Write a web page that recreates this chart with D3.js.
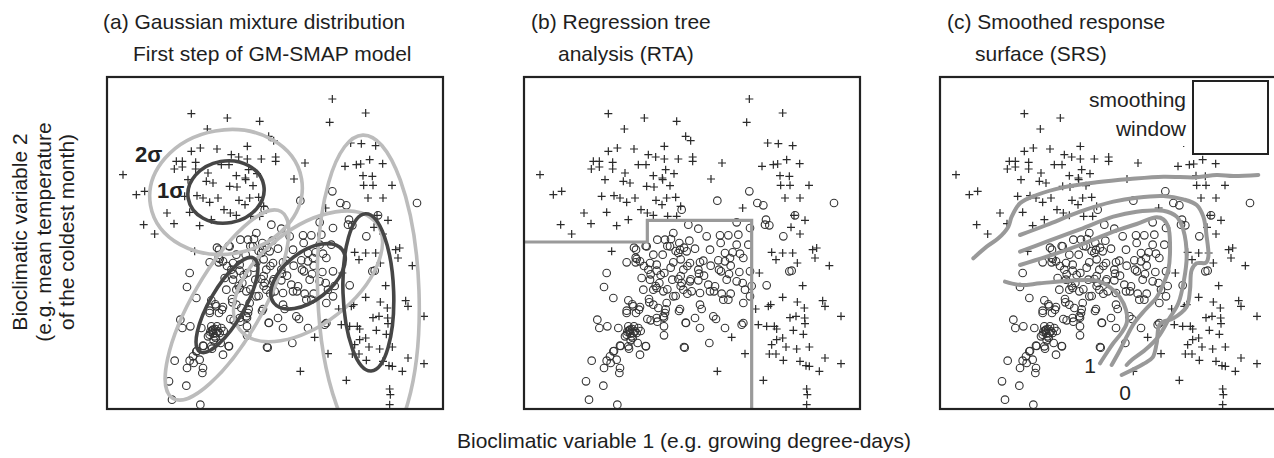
<!DOCTYPE html>
<html>
<head>
<meta charset="utf-8">
<script src="https://cdn.jsdelivr.net/npm/d3@7"></script>
<style>
  body { margin: 0; background: #fff; }
  svg { display: block; font-family: "Liberation Sans", Arial, Helvetica, sans-serif; }
</style>
</head>
<body>
<svg class="chart"></svg>
<script>
// Sites in bioclimatic space (var 1 = x, var 2 = y), arbitrary units
// absences are drawn as "+", presences as "o"
const absences = [
  [676,930],[668,860],[253,886],[361,873],[458,863],[776,888],[301,840],[485,818],[500,805],
  [731,798],[763,796],[806,790],[253,773],[280,783],[330,780],[421,788],[373,763],[395,756],
  [421,750],[463,750],[506,756],[208,743],[226,743],[266,740],[343,733],[366,733],[506,743],
  [594,738],[714,728],[748,733],[761,735],[788,748],[827,736],[202,720],[226,726],[266,720],
  [48,703],[303,708],[388,700],[415,693],[450,706],[425,718],[768,700],[796,698],[243,688],
  [298,683],[318,678],[416,688],[368,668],[390,666],[438,670],[770,671],[798,671],[855,671],
  [561,690],[88,643],[113,653],[233,638],[270,640],[288,633],[308,620],[333,633],[428,633],
  [455,635],[396,626],[414,613],[470,608],[783,633],[828,633],[180,588],[248,590],[351,598],
  [370,588],[388,581],[110,553],[201,556],[278,550],[313,568],[431,578],[458,578],[656,603],
  [810,581],[843,566],[143,525],[801,545],[828,525],[263,473],[743,470],[756,448],[776,468],
  [806,468],[866,478],[878,483],[873,453],[820,438],[916,430],[706,408],[836,370],[776,335],
  [820,321],[841,303],[896,325],[903,308],[951,278],[695,300],[733,308],[740,313],[703,253],
  [728,248],[751,248],[758,240],[816,278],[842,273],[843,256],[808,236],[798,274],[838,224],
  [758,208],[776,213],[743,193],[786,186],[818,180],[856,186],[623,215],[663,166],[736,165],
  [756,165],[778,146],[828,143],[846,130],[856,128],[903,153],[951,136],[886,113],[580,113],
  [718,86],[848,60],[850,43],[848,13]
];

const presences = [
  [473,598],[580,625],[676,653],[700,618],[718,611],[930,618],[813,581],[726,568],[736,551],
  [723,553],[778,518],[796,413],[803,415],[638,560],[678,543],[493,553],[523,541],[548,518],
  [588,521],[613,521],[643,523],[590,498],[638,493],[673,493],[448,528],[400,508],[423,508],
  [441,510],[466,498],[496,505],[438,488],[468,478],[513,481],[558,478],[603,468],[626,470],
  [648,466],[336,478],[368,488],[388,463],[416,463],[463,468],[488,473],[338,450],[308,440],
  [335,440],[348,443],[378,438],[398,433],[448,440],[498,438],[528,440],[538,445],[583,446],
  [603,443],[618,453],[658,453],[248,408],[373,418],[398,415],[421,408],[478,418],[523,418],
  [525,406],[585,418],[591,413],[646,411],[678,413],[240,366],[353,393],[378,388],[406,378],
  [445,388],[463,390],[473,378],[498,383],[523,386],[553,373],[573,368],[608,388],[638,383],
  [656,378],[268,333],[358,358],[388,358],[398,363],[418,353],[448,338],[478,358],[503,353],
  [528,348],[558,353],[570,353],[593,346],[620,346],[663,358],[678,338],[313,326],[328,308],
  [348,306],[376,320],[388,313],[403,303],[428,318],[468,300],[528,313],[533,300],[598,328],
  [613,328],[658,318],[308,288],[336,288],[370,270],[398,273],[418,278],[423,288],[513,273],
  [568,278],[576,270],[603,243],[653,253],[658,258],[220,268],[226,243],[250,248],[283,243],
  [313,248],[318,238],[328,228],[323,218],[338,228],[308,223],[320,206],[303,218],[330,248],
  [343,243],[420,248],[420,221],[486,258],[528,243],[556,198],[480,186],[341,198],[366,188],
  [313,188],[288,190],[268,173],[258,158],[248,145],[260,138],[278,148],[348,163],[203,145],
  [240,123],[288,123],[286,108],[186,83],[238,70],[195,28],[280,13],[728,371],[683,369],
  [335,454],[360,429],[380,404],[410,402],[395,369],[430,359],[470,399],[490,346],[455,339],
  [425,299],[420,274],[465,294],[485,259],[482,184],[400,262],[380,266],[325,314],[345,298],
  [375,330],[308,295],[350,234],[365,189],[315,181],[290,189],[270,174],[315,235],[325,240],
  [333,233],[318,226],[310,232],[326,213],[330,484],[365,489],[430,489],[455,474],[480,484],
  [470,449],[440,424],[490,429],[500,389],[470,369],[540,400],[560,430],[620,430],[615,405]
];

// (a) Gaussian mixture: component mean, 1-sigma semi-axes, axis angle (deg)
const gmComponents = [
  { cx: 357, cy: 651, sa: 115, sb: 93, angle: 10 },
  { cx: 360, cy: 312, sa: 162, sb: 52, angle: 60 },
  { cx: 603, cy: 398, sa: 130, sb: 72, angle: 38 },
  { cx: 784, cy: 350, sa: 236, sb: 76, angle: 92 }
];
const sigmaLevels = [2, 1];
const sigmaLabels = [
  { text: "2σ", x: 84, y: 741 },
  { text: "1σ", x: 150, y: 633 }
];

// (b) regression tree split boundary
const treeBoundary = [[0, 501], [370, 501], [370, 566], [683, 566], [683, 0]];

// (c) smoothed response surface contours
const srsContours = [
  [[100,452],[140,487],[175,512],[205,547],[215,577],[240,617],[290,642],[370,665],[470,680],
   [570,690],[670,697],[770,695],[830,702],[880,699],[955,702]],
  [[240,522],[320,552],[420,592],[520,622],[590,634],[670,639],[730,629],[770,612],[790,577],
   [800,517],[805,457],[798,439],[770,437],[755,417],[750,357],[740,307],[700,272],[660,255],
   [650,197],[638,155],[610,135],[545,102]],
  [[240,472],[320,502],[420,539],[520,577],[590,592],[670,595],[710,577],[730,537],[740,457],
   [732,387],[715,317],[685,267],[655,217],[615,177],[575,147],[560,132]],
  [[240,432],[320,457],[420,492],[520,532],[590,555],[650,575],[670,569],[685,545],[690,497],
   [685,417],[670,375],[650,335],[615,297],[582,257],[560,217],[540,177],[515,132]],
  [[195,382],[240,372],[300,377],[390,385],[470,385],[510,365],[540,335],[558,297],[560,257],
   [542,225],[518,195],[498,165],[480,137]]
];
const contourLabels = [
  { text: "1", x: 450, y: 108 },
  { text: "0", x: 555, y: 27 }
];
const smoothingWindow = { x0: 759, x1: 984, y0: 765, y1: 984 };

const panelTitles = [
  ["(a) Gaussian mixture distribution", "First step of GM-SMAP model"],
  ["(b) Regression tree", "analysis (RTA)"],
  ["(c) Smoothed response", "surface (SRS)"]
];
const yLabelLines = ["Bioclimatic variable 2", "(e.g. mean temperature", "of the coldest month)"];
const xLabel = "Bioclimatic variable 1 (e.g. growing degree-days)";

// Chart dimensions
const width = 1274;
const height = 458;
const panelLeft = [107, 524, 940];
const panelTop = 77;
const panelW = 336;
const panelH = 332;
const fontSize = 21;
const titleOffsets = [[-4, 26], [7, 34], [7, 35]];

const svg = d3.select("svg.chart")
  .attr("width", width)
  .attr("height", height)
  .attr("viewBox", `0 0 ${width} ${height}`);

function makePanel(i) {
  const x = d3.scaleLinear().domain([0, 1008]).range([panelLeft[i], panelLeft[i] + panelW]);
  const y = d3.scaleLinear().domain([0, 996]).range([panelTop + panelH, panelTop]);
  const g = svg.append("g");
  g.append("clipPath").attr("id", `clip-${i}`)
    .append("rect")
    .attr("x", panelLeft[i]).attr("y", panelTop)
    .attr("width", panelW).attr("height", panelH);
  const plot = g.append("g").attr("clip-path", `url(#clip-${i})`);

  // titles
  const title = g.append("g").attr("font-size", fontSize).attr("fill", "#1e1e1e");
  title.append("text").attr("x", panelLeft[i] + titleOffsets[i][0]).attr("y", 29).text(panelTitles[i][0]);
  title.append("text").attr("x", panelLeft[i] + titleOffsets[i][1]).attr("y", 61).text(panelTitles[i][1]);

  return { i, x, y, g, plot };
}

function drawPoints(p) {
  p.plot.append("g")
    .attr("stroke", "#2a2a2a")
    .attr("stroke-width", 1.2)
    .selectAll("path")
    .data(absences)
    .join("path")
    .attr("d", d => `M${p.x(d[0]) - 4},${p.y(d[1])}h8M${p.x(d[0])},${p.y(d[1]) - 4}v8`);

  p.plot.append("g")
    .attr("stroke", "#333")
    .attr("stroke-width", 1.1)
    .attr("fill", "none")
    .selectAll("circle")
    .data(presences)
    .join("circle")
    .attr("cx", d => p.x(d[0]))
    .attr("cy", d => p.y(d[1]))
    .attr("r", 3.8);
}

function drawFrame(p) {
  p.g.append("rect")
    .attr("x", panelLeft[p.i]).attr("y", panelTop)
    .attr("width", panelW).attr("height", panelH)
    .attr("fill", "none")
    .attr("stroke", "#222")
    .attr("stroke-width", 2.2);
}

// (a) Gaussian mixture
const pa = makePanel(0);
drawPoints(pa);
const sigmaColor = d3.scaleOrdinal().domain(sigmaLevels).range(["#bcbcbc", "#464646"]);
sigmaLevels.forEach(k => {
  pa.plot.append("g")
    .attr("fill", "none")
    .attr("stroke", sigmaColor(k))
    .attr("stroke-width", 3.6)
    .selectAll("ellipse")
    .data(gmComponents)
    .join("ellipse")
    .attr("cx", d => pa.x(d.cx))
    .attr("cy", d => pa.y(d.cy))
    .attr("rx", d => pa.x(d.sa * k) - pa.x(0))
    .attr("ry", d => pa.y(0) - pa.y(d.sb * k))
    .attr("transform", d => `rotate(${-d.angle},${pa.x(d.cx)},${pa.y(d.cy)})`);
});
pa.g.append("g")
  .attr("font-size", 22)
  .attr("font-weight", "bold")
  .attr("fill", "#222")
  .selectAll("text")
  .data(sigmaLabels)
  .join("text")
  .attr("x", d => pa.x(d.x))
  .attr("y", d => pa.y(d.y))
  .text(d => d.text);
drawFrame(pa);

// (b) Regression tree
const pb = makePanel(1);
drawPoints(pb);
pb.plot.append("path")
  .datum(treeBoundary)
  .attr("fill", "none")
  .attr("stroke", "#9a9a9a")
  .attr("stroke-width", 3.2)
  .attr("d", d3.line().x(d => pb.x(d[0])).y(d => pb.y(d[1])));
drawFrame(pb);

// (c) Smoothed response surface
const pc = makePanel(2);
drawPoints(pc);
pc.plot.append("g")
  .attr("fill", "none")
  .attr("stroke", "#999")
  .attr("stroke-width", 4)
  .attr("stroke-linecap", "round")
  .selectAll("path")
  .data(srsContours)
  .join("path")
  .attr("d", d3.line().x(d => pc.x(d[0])).y(d => pc.y(d[1])).curve(d3.curveCatmullRom.alpha(0.5)));
pc.g.append("g")
  .attr("font-size", fontSize)
  .attr("fill", "#222")
  .attr("text-anchor", "middle")
  .selectAll("text")
  .data(contourLabels)
  .join("text")
  .attr("x", d => pc.x(d.x))
  .attr("y", d => pc.y(d.y))
  .text(d => d.text);

// white area behind the smoothing-window legend
pc.plot.append("rect")
  .attr("x", pc.x(smoothingWindow.x0) - 112)
  .attr("y", panelTop)
  .attr("width", pc.x(1008) - pc.x(smoothingWindow.x0) + 112)
  .attr("height", pc.y(smoothingWindow.y0) - panelTop - 8)
  .attr("fill", "#fff");
pc.g.append("rect")
  .attr("x", pc.x(smoothingWindow.x0))
  .attr("y", pc.y(smoothingWindow.y1))
  .attr("width", pc.x(smoothingWindow.x1) - pc.x(smoothingWindow.x0))
  .attr("height", pc.y(smoothingWindow.y0) - pc.y(smoothingWindow.y1))
  .attr("fill", "#fff")
  .attr("stroke", "#222")
  .attr("stroke-width", 2);
const winText = pc.g.append("g")
  .attr("font-size", fontSize)
  .attr("fill", "#222")
  .attr("text-anchor", "end");
winText.append("text").attr("x", pc.x(smoothingWindow.x0) - 7).attr("y", 107).text("smoothing");
winText.append("text").attr("x", pc.x(smoothingWindow.x0) - 7).attr("y", 136).text("window");
drawFrame(pc);

// Axis labels
svg.append("text")
  .attr("x", 684)
  .attr("y", 448)
  .attr("text-anchor", "middle")
  .attr("font-size", fontSize)
  .attr("fill", "#1e1e1e")
  .text(xLabel);

svg.append("g")
  .attr("font-size", fontSize)
  .attr("fill", "#1e1e1e")
  .attr("text-anchor", "middle")
  .selectAll("text")
  .data(yLabelLines)
  .join("text")
  .attr("transform", (d, i) => `translate(${27 + i * 23.5},232) rotate(-90)`)
  .text(d => d);
</script>
</body>
</html>
